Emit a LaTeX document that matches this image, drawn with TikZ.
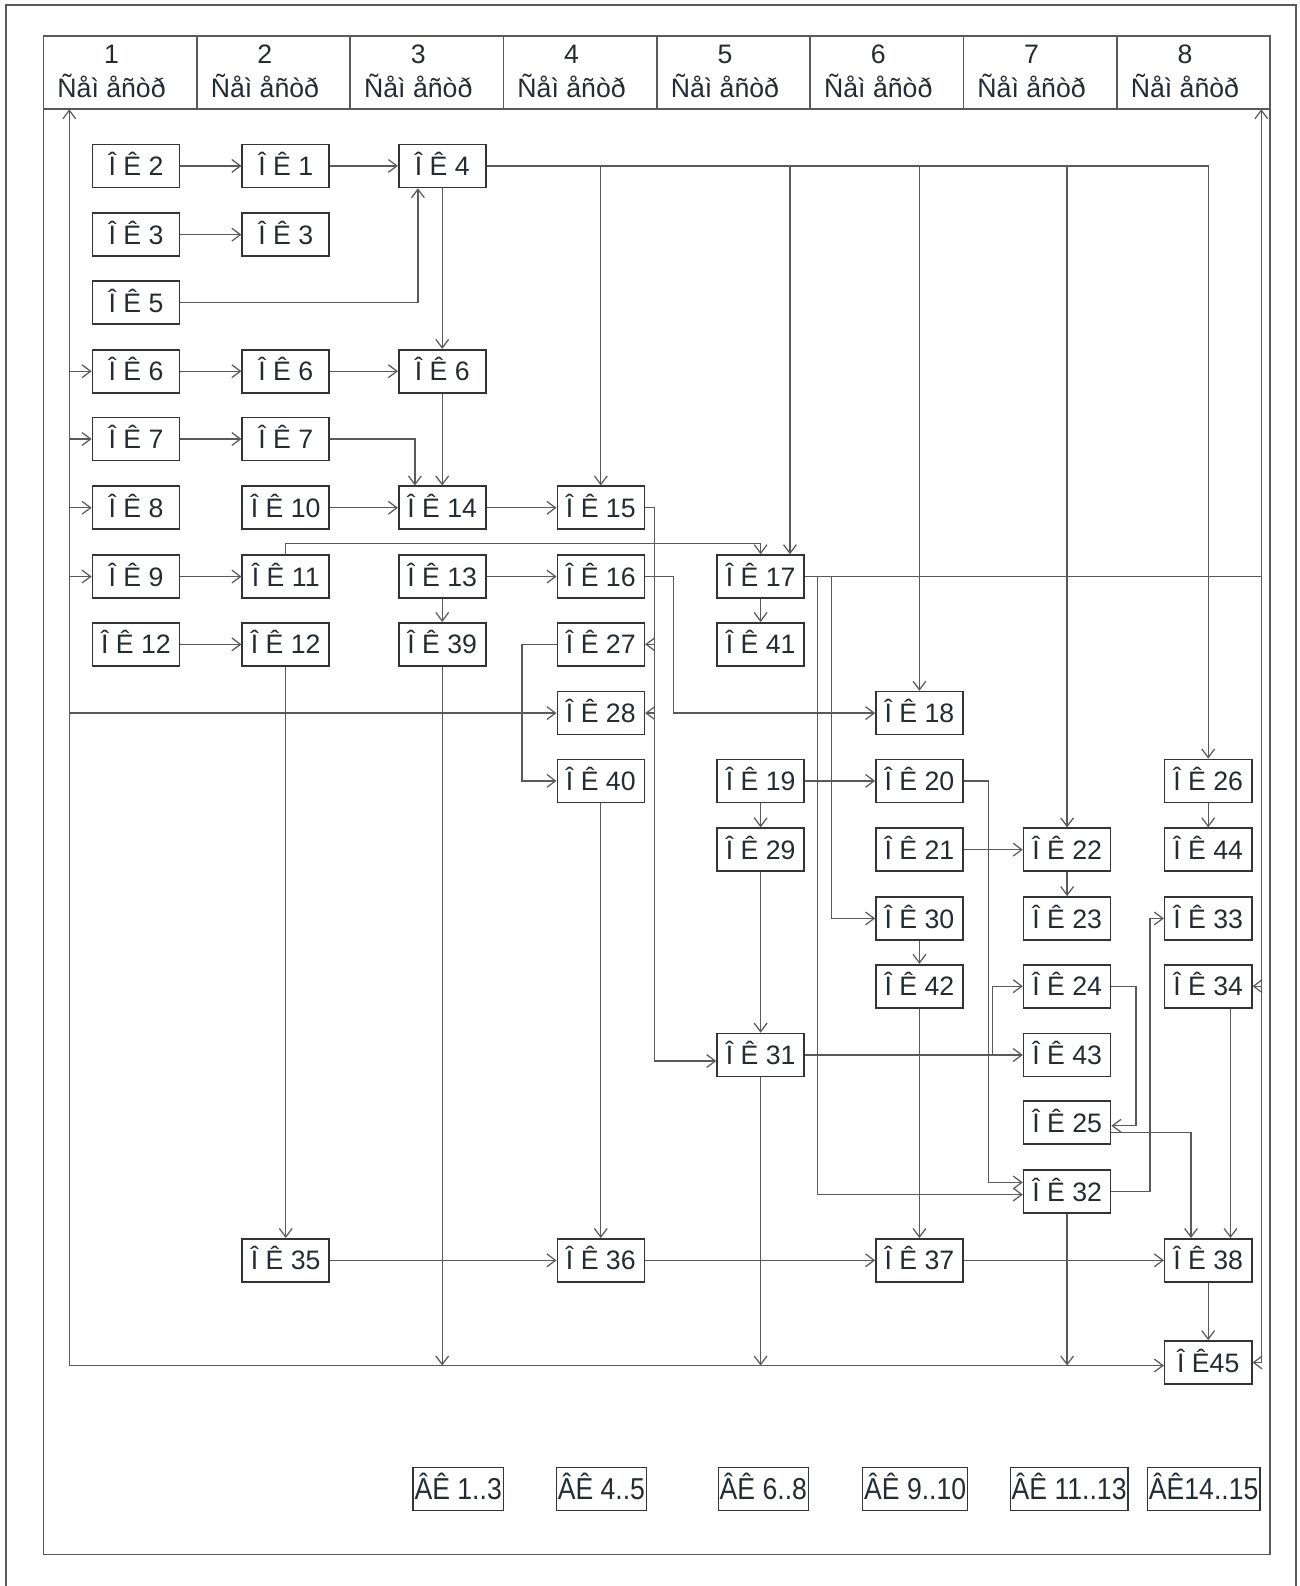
\documentclass[tikz,border=0pt]{standalone}
\usepackage{fontspec}
\setmainfont{Liberation Sans}
\newfontfamily\vkfont[FakeStretch=0.88]{Liberation Sans}
\usetikzlibrary{arrows.meta, calc}
\definecolor{linec}{RGB}{90,90,90}
\definecolor{boxc}{RGB}{50,52,56}
\definecolor{txtc}{RGB}{38,42,50}

\begin{document}
\begin{tikzpicture}[
  x=0.01cm, y=-0.01cm,
  >={Straight Barb[length=2.4pt,width=3.6pt]},
  okbox/.style={draw=boxc, line width=0.45pt, minimum width=0.86cm, minimum height=0.425cm, inner sep=0pt, text height=5.4pt, text depth=0pt, text=txtc, font=\fontsize{7.5}{9}\selectfont},
  vkbox/.style={draw=boxc, line width=0.4pt, minimum height=0.425cm, inner xsep=0.4pt, inner ysep=0pt, text height=6.1pt, text depth=0pt, text=txtc, font=\vkfont\fontsize{8.5}{10}\selectfont},
  arr/.style={->, draw=linec, line width=0.35pt},
  frame/.style={draw=linec, line width=0.45pt},
  semtext/.style={align=center, text=txtc, font=\fontsize{7.5}{9.4}\selectfont}
  ]
  \useasboundingbox (0,0) rectangle (1285,1568);
  % frames and header
  \draw[frame] (6,1568) |- (1281,5) -- (1281,1568);
  \draw[frame] (43,35.5) rectangle (1255.8,1537);
  \draw[frame] (43,108) -- (1255.8,108);
  \foreach \i in {1,...,7} \draw[frame] ({43+151.6*\i},35.5) -- ({43+151.6*\i},108);
  \foreach \i in {1,...,8} \node[semtext] (sem\i) at ({151.6*\i-41.3},70.5) {\i\\Ñåì åñòð};

  % rails and bends
  \coordinate (hdr) at (0,108);
  \coordinate (railL) at (68.5,0);
  \coordinate (railR) at (1247,0);
  \coordinate (railB) at (0,1350);
  \coordinate (h11) at (0,537);
  \coordinate (v27) at (516,0);
  \coordinate (v15) at (647,0);
  \coordinate (v16) at (666,0);
  \coordinate (v17a) at (808,0);
  \coordinate (v17b) at (822,0);
  \coordinate (v20) at (977,0);
  \coordinate (v31) at (981,0);
  \coordinate (v24) at (1123,0);
  \coordinate (v32) at (1137,0);

  % semester 1
  \node[okbox] (ok2)   at (134.4,164) {Î Ê 2};
  \node[okbox] (ok3a)  at (134.4,232) {Î Ê 3};
  \node[okbox] (ok5)   at (134.4,299) {Î Ê 5};
  \node[okbox] (ok6a)  at (134.4,367) {Î Ê 6};
  \node[okbox] (ok7a)  at (134.4,434) {Î Ê 7};
  \node[okbox] (ok8)   at (134.4,502) {Î Ê 8};
  \node[okbox] (ok9)   at (134.4,570) {Î Ê 9};
  \node[okbox] (ok12a) at (134.4,637) {Î Ê 12};
  % semester 2
  \node[okbox] (ok1)   at (282.5,164) {Î Ê 1};
  \node[okbox] (ok3b)  at (282.5,232) {Î Ê 3};
  \node[okbox] (ok6b)  at (282.5,367) {Î Ê 6};
  \node[okbox] (ok7b)  at (282.5,434) {Î Ê 7};
  \node[okbox] (ok10)  at (282.5,502) {Î Ê 10};
  \node[okbox] (ok11)  at (282.5,570) {Î Ê 11};
  \node[okbox] (ok12b) at (282.5,637) {Î Ê 12};
  \node[okbox] (ok35)  at (282.5,1246) {Î Ê 35};
  % semester 3
  \node[okbox] (ok4)   at (437.2,164) {Î Ê 4};
  \node[okbox] (ok6c)  at (437.2,367) {Î Ê 6};
  \node[okbox] (ok14)  at (437.2,502) {Î Ê 14};
  \node[okbox] (ok13)  at (437.2,570) {Î Ê 13};
  \node[okbox] (ok39)  at (437.2,637) {Î Ê 39};
  % semester 4
  \node[okbox] (ok15)  at (594,502) {Î Ê 15};
  \node[okbox] (ok16)  at (594,570) {Î Ê 16};
  \node[okbox] (ok27)  at (594,637) {Î Ê 27};
  \node[okbox] (ok28)  at (594,705) {Î Ê 28};
  \node[okbox] (ok40)  at (594,772) {Î Ê 40};
  \node[okbox] (ok36)  at (594,1246) {Î Ê 36};
  % semester 5
  \node[okbox] (ok17)  at (752,570) {Î Ê 17};
  \node[okbox] (ok41)  at (752,637) {Î Ê 41};
  \node[okbox] (ok19)  at (752,772) {Î Ê 19};
  \node[okbox] (ok29)  at (752,840) {Î Ê 29};
  \node[okbox] (ok31)  at (752,1043) {Î Ê 31};
  % semester 6
  \node[okbox] (ok18)  at (909,705) {Î Ê 18};
  \node[okbox] (ok20)  at (909,772) {Î Ê 20};
  \node[okbox] (ok21)  at (909,840) {Î Ê 21};
  \node[okbox] (ok30)  at (909,908) {Î Ê 30};
  \node[okbox] (ok42)  at (909,975) {Î Ê 42};
  \node[okbox] (ok37)  at (909,1246) {Î Ê 37};
  % semester 7
  \node[okbox] (ok22)  at (1055,840) {Î Ê 22};
  \node[okbox] (ok23)  at (1055,908) {Î Ê 23};
  \node[okbox] (ok24)  at (1055,975) {Î Ê 24};
  \node[okbox] (ok43)  at (1055,1043) {Î Ê 43};
  \node[okbox] (ok25)  at (1055,1110) {Î Ê 25};
  \node[okbox] (ok32)  at (1055,1178) {Î Ê 32};
  % semester 8
  \node[okbox] (ok26)  at (1194.5,772) {Î Ê 26};
  \node[okbox] (ok44)  at (1194.5,840) {Î Ê 44};
  \node[okbox] (ok33)  at (1194.5,908) {Î Ê 33};
  \node[okbox] (ok34)  at (1194.5,975) {Î Ê 34};
  \node[okbox] (ok38)  at (1194.5,1246) {Î Ê 38};
  \node[okbox] (ok45)  at (1194.5,1347) {Î Ê45};
  % elective blocks
  \node[vkbox] (vk1)  at (453,1472) {ÂÊ 1..3};
  \node[vkbox] (vk4)  at (594.6,1472) {ÂÊ 4..5};
  \node[vkbox] (vk6)  at (754.7,1472) {ÂÊ 6..8};
  \node[vkbox] (vk9)  at (904.8,1472) {ÂÊ 9..10};
  \node[vkbox] (vk11) at (1057,1472) {ÂÊ 11..13};
  \node[vkbox] (vk14) at (1190,1472) {ÂÊ14..15};

  % rails
  \draw[arr] (railL |- railB) -- (railL |- hdr);
  \draw[arr] (railL |- railB) -- (ok45.west |- railB);
  \foreach \n in {ok6a,ok7a,ok8,ok9,ok28} \draw[arr] (\n.west -| railL) -- (\n.west);
  \draw[arr] (ok17.east) -| (railR |- hdr);
  \draw[arr] (ok17.east -| railR) |- (ok45.east);
  \draw[arr] (ok34.east -| railR) -- (ok34.east);
  % straight links
  \foreach \a/\b in {ok2/ok1, ok1/ok4, ok3a/ok3b, ok6a/ok6b, ok6b/ok6c, ok7a/ok7b, ok10/ok14, ok14/ok15, ok9/ok11, ok13/ok16, ok12a/ok12b, ok19/ok20, ok21/ok22, ok31/ok43, ok35/ok36, ok36/ok37, ok37/ok38}
    \draw[arr] (\a.east) -- (\b.west);
  \foreach \a/\b in {ok4/ok6c, ok6c/ok14, ok13/ok39, ok17/ok41, ok12b/ok35, ok40/ok36, ok19/ok29, ok29/ok31, ok30/ok42, ok42/ok37, ok22/ok23, ok26/ok44, ok38/ok45}
    \draw[arr] (\a.south) -- (\b.north);
  % from 4
  \draw[arr] (ok4.east) -| (ok26.north);
  \draw[arr] (ok4.east -| ok15) -- (ok15.north);
  \draw[arr] ($(ok4.east -| ok17)+(29,0)$) -- ($(ok17.north)+(29,0)$);
  \draw[arr] (ok4.east -| ok18) -- (ok18.north);
  \draw[arr] (ok4.east -| ok22) -- (ok22.north);
  \draw[arr] (ok5.east) -| ($(ok4.south)+(-24,0)$);
  \draw[arr] (ok7b.east) -| ($(ok14.north)+(-27,0)$);
  \draw[arr] (ok11.north) |- (h11 -| ok17) -- (ok17.north);
  % from 15 and 16
  \draw[arr] (ok15.east) -| ($(v15 |- ok31.west)+(0,6)$) -- ($(ok31.west)+(0,6)$);
  \draw[arr] (ok27.east -| v15) -- (ok27.east);
  \draw[arr] (ok28.east -| v15) -- (ok28.east);
  \draw[arr] (ok16.east) -| (v16 |- ok18.west) -- (ok18.west);
  \draw[arr] (ok27.west) -| (v27 |- ok40.west) -- (ok40.west);
  % from 17 and 20
  \draw[arr] (ok17.east -| v17b) |- (ok30.west);
  \draw[arr] (ok17.east -| v17a) |- ($(ok32.west)+(0,3)$);
  \draw[arr] (ok20.east) -| ($(v20 |- ok32.west)+(0,-9)$) -- ($(ok32.west)+(0,-9)$);
  % lower right
  \draw[arr] (ok31.east -| v31) |- (ok24.west);
  \draw[arr] (ok24.east) -| ($(v24 |- ok25.east)+(0,3)$) -- ($(ok25.east)+(0,3)$);
  \draw[arr] ($(ok25.east)+(0,10)$) -| ($(ok38.north)+(-17,0)$);
  \draw[arr] (ok32.east) -| (v32 |- ok33.west) -- (ok33.west);
  \draw[arr] ($(ok34.south)+(22,0)$) -- ($(ok38.north)+(22,0)$);
  % down to the bottom rail
  \foreach \n in {ok39,ok31,ok32} \draw[arr] (\n.south) -- (\n.south |- railB);
\end{tikzpicture}
\end{document}
